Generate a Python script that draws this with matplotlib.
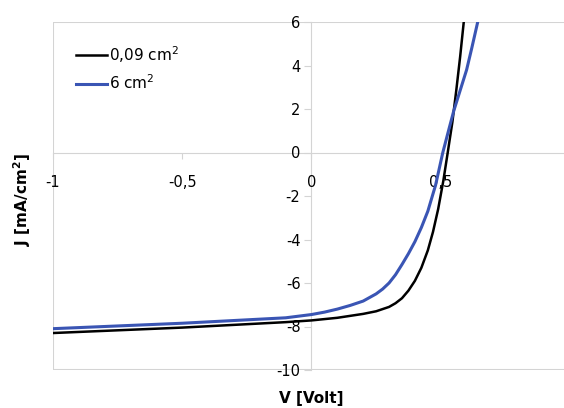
import numpy as np
import matplotlib
matplotlib.use('Agg')
import matplotlib.pyplot as plt

plt.rcParams['font.family'] = ['DejaVu Sans']
plt.rcParams['axes.unicode_minus'] = False

# J-V curves
v_small = [-1.0, -0.5, -0.1, 0.0, 0.1, 0.2, 0.25, 0.3, 0.325, 0.35, 0.375, 0.4, 0.425,
           0.45, 0.47, 0.49, 0.51, 0.527, 0.545, 0.56, 0.575, 0.589, 0.6]
j_small = [-8.3, -8.05, -7.8, -7.72, -7.6, -7.42, -7.3, -7.1, -6.93, -6.7, -6.35, -5.9, -5.3,
           -4.5, -3.65, -2.6, -1.3, 0.0, 1.4, 2.85, 4.4, 6.0, 7.2]

v_large = [-1.0, -0.5, -0.1, 0.0, 0.05, 0.1, 0.15, 0.2, 0.25, 0.275, 0.3, 0.325, 0.35,
           0.375, 0.4, 0.425, 0.45, 0.48, 0.508, 0.53, 0.55, 0.575, 0.6, 0.62, 0.643, 0.66]
j_large = [-8.1, -7.85, -7.6, -7.45, -7.34, -7.2, -7.03, -6.83, -6.5, -6.28, -6.0, -5.62, -5.15,
           -4.65, -4.1, -3.45, -2.7, -1.5, 0.0, 1.0, 1.9, 2.85, 3.8, 4.8, 6.0, 6.8]

x_ticks = [-1, -0.5, 0, 0.5, 1]
x_labels = ['-1', '-0,5', '0', '0,5', '1']
y_ticks = [-10, -8, -6, -4, -2, 0, 2, 4, 6]

grey = '#d4d4d4'

fig = plt.figure(figsize=(5.64, 4.08), dpi=100)
ax = fig.add_axes([53 / 564, 1 - 370 / 408, 517 / 564, 348 / 408])

ax.plot(v_small, j_small, color='black', lw=1.8, label='0,09 cm$^2$')
ax.plot(v_large, j_large, color='#3a55b4', lw=2.2, label='6 cm$^2$')

ax.set_xlim(-1, 1)
ax.set_ylim(-10, 6)

for s in ['top', 'right']:
    ax.spines[s].set_visible(False)
ax.spines['left'].set_position(('data', 0))
ax.spines['bottom'].set_position(('data', 0))
ax.spines['left'].set_color(grey)
ax.spines['bottom'].set_color(grey)
ax.spines['left'].set_zorder(0)
ax.spines['bottom'].set_zorder(0)

# frame lines
ax.axvline(-1, color=grey, lw=1.5, zorder=0)
ax.axhline(6, color=grey, lw=1.5, zorder=0)
ax.axhline(-10, color=grey, lw=1.5, zorder=0)

ax.set_xticks(x_ticks)
ax.set_xticklabels(x_labels)
ax.set_yticks(y_ticks)
ax.tick_params(axis='x', direction='out', length=4, color=grey, pad=12, labelsize=10.5)
ax.tick_params(axis='y', direction='out', length=5, color=grey, pad=3, labelsize=10.5)

fig.text(22 / 564, 1 - 200 / 408, 'J [mA/cm$^\\mathbf{2}$]', rotation=90,
         ha='center', va='center', fontsize=11, fontweight='bold')
fig.text(311 / 564, 1 - 399 / 408, 'V [Volt]', ha='center', va='center',
         fontsize=11, fontweight='bold')

ax.legend(loc='upper left', bbox_to_anchor=(70 / 564, 1 - 38 / 408),
          bbox_transform=fig.transFigure, frameon=False, fontsize=11,
          handlelength=2.0, handletextpad=0.15, labelspacing=0.55,
          borderaxespad=0)

fig.savefig('out.png', dpi=100)
